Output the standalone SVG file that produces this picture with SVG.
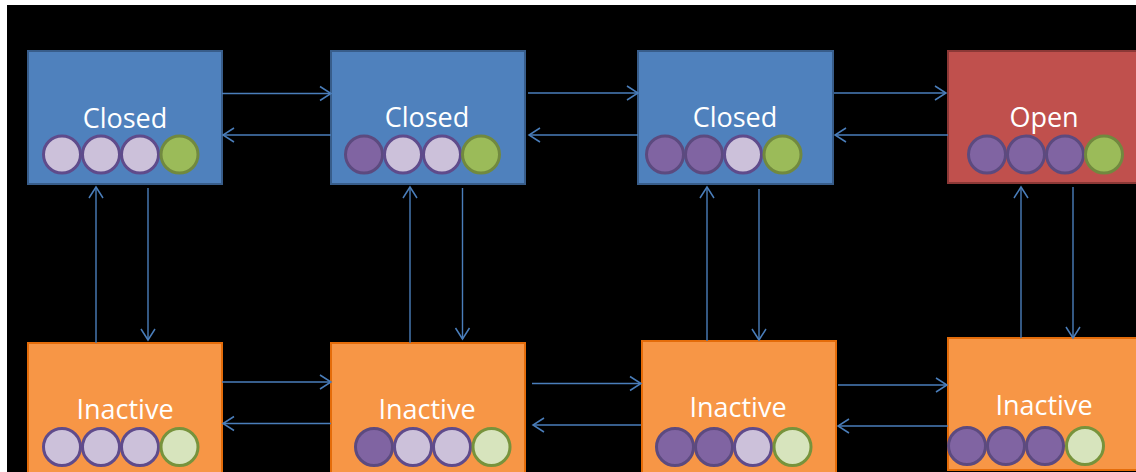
<svg xmlns="http://www.w3.org/2000/svg" width="1136" height="472" viewBox="0 0 1136 472">
  <defs>
    <style>
      .closed { fill: #4f81bd; stroke: #385d8a; stroke-width: 2; }
      .open { fill: #c0504d; stroke: #8c3836; stroke-width: 2; }
      .inactive { fill: #f79646; stroke: #e46c0a; stroke-width: 2; }
      .lbl { font-family: "Open Sans", "DejaVu Sans", sans-serif; font-size: 27px; fill: #ffffff; text-anchor: middle; }
      .p0 { fill: #ccc1da; stroke: #5f4b8b; stroke-width: 3; }
      .p1 { fill: #8064a2; stroke: #5c4a7f; stroke-width: 3; }
      .g1 { fill: #9bbb59; stroke: #71893f; stroke-width: 3; }
      .g0 { fill: #d7e4bd; stroke: #77933c; stroke-width: 3; }
      .edge { fill: none; stroke: #4a7ebb; stroke-width: 1.4; marker-end: url(#head); }
    </style>
    <marker id="head" markerUnits="userSpaceOnUse" markerWidth="15" markerHeight="18" viewBox="-13 -9 15 18" refX="0" refY="0" orient="auto">
      <path d="M-11,-7 L0,0 L-11,7" fill="none" stroke="#4a7ebb" stroke-width="1.5"/>
    </marker>
  </defs>

  <rect x="0" y="0" width="1136" height="472" fill="#ffffff"/>
  <rect x="7" y="5" width="1129" height="467" fill="#000000"/>

  <!-- top row -->
  <g id="closed-1">
    <rect class="closed" x="28" y="51" width="194" height="133"/>
    <text class="lbl" x="125" y="128">Closed</text>
    <circle class="p0" cx="62" cy="154.5" r="18.5"/>
    <circle class="p0" cx="101" cy="154.5" r="18.5"/>
    <circle class="p0" cx="140" cy="154.5" r="18.5"/>
    <circle class="g1" cx="179.5" cy="154.5" r="18.5"/>
  </g>
  <g id="closed-2">
    <rect class="closed" x="331" y="51" width="194" height="133"/>
    <text class="lbl" x="427" y="127">Closed</text>
    <circle class="p1" cx="364" cy="154.5" r="18.5"/>
    <circle class="p0" cx="403" cy="154.5" r="18.5"/>
    <circle class="p0" cx="442" cy="154.5" r="18.5"/>
    <circle class="g1" cx="481" cy="154.5" r="18.5"/>
  </g>
  <g id="closed-3">
    <rect class="closed" x="638" y="51" width="195" height="133"/>
    <text class="lbl" x="735" y="127">Closed</text>
    <circle class="p1" cx="665" cy="154.5" r="18.5"/>
    <circle class="p1" cx="704" cy="154.5" r="18.5"/>
    <circle class="p0" cx="743" cy="154.5" r="18.5"/>
    <circle class="g1" cx="782.5" cy="154.5" r="18.5"/>
  </g>
  <g id="open">
    <rect class="open" x="948" y="51" width="194" height="132"/>
    <text class="lbl" x="1044" y="127">Open</text>
    <circle class="p1" cx="987" cy="154.5" r="18.5"/>
    <circle class="p1" cx="1026" cy="154.5" r="18.5"/>
    <circle class="p1" cx="1065" cy="154.5" r="18.5"/>
    <circle class="g1" cx="1104" cy="154.5" r="18.5"/>
  </g>

  <!-- bottom row -->
  <g id="inactive-1">
    <rect class="inactive" x="28" y="343" width="194" height="134"/>
    <text class="lbl" x="125" y="419">Inactive</text>
    <circle class="p0" cx="62" cy="447" r="18.5"/>
    <circle class="p0" cx="101" cy="447" r="18.5"/>
    <circle class="p0" cx="140" cy="447" r="18.5"/>
    <circle class="g0" cx="179.5" cy="447" r="18.5"/>
  </g>
  <g id="inactive-2">
    <rect class="inactive" x="331" y="343" width="194" height="134"/>
    <text class="lbl" x="427" y="419">Inactive</text>
    <circle class="p1" cx="374" cy="447" r="18.5"/>
    <circle class="p0" cx="413" cy="447" r="18.5"/>
    <circle class="p0" cx="452" cy="447" r="18.5"/>
    <circle class="g0" cx="491.5" cy="447" r="18.5"/>
  </g>
  <g id="inactive-3">
    <rect class="inactive" x="642" y="341" width="194" height="134"/>
    <text class="lbl" x="738" y="417">Inactive</text>
    <circle class="p1" cx="675" cy="447" r="18.5"/>
    <circle class="p1" cx="714" cy="447" r="18.5"/>
    <circle class="p0" cx="753" cy="447" r="18.5"/>
    <circle class="g0" cx="792.5" cy="447" r="18.5"/>
  </g>
  <g id="inactive-4">
    <rect class="inactive" x="948" y="338" width="194" height="132"/>
    <text class="lbl" x="1044" y="415">Inactive</text>
    <circle class="p1" cx="967" cy="446" r="18.5"/>
    <circle class="p1" cx="1006" cy="446" r="18.5"/>
    <circle class="p1" cx="1045" cy="446" r="18.5"/>
    <circle class="g0" cx="1085" cy="446" r="18.5"/>
  </g>

  <g id="connectors">
    <!-- top row horizontal -->
    <path class="edge" d="M222,93.5 H331"/>
    <path class="edge" d="M331,135 H223"/>
    <path class="edge" d="M528,93 H638"/>
    <path class="edge" d="M638,135 H529"/>
    <path class="edge" d="M834,93 H946"/>
    <path class="edge" d="M948,135 H835"/>
    <!-- bottom row horizontal -->
    <path class="edge" d="M222,382 H331"/>
    <path class="edge" d="M331,423.5 H223"/>
    <path class="edge" d="M532,383.5 H641"/>
    <path class="edge" d="M641,425 H533"/>
    <path class="edge" d="M838,385 H947"/>
    <path class="edge" d="M948,426 H838"/>
    <!-- vertical -->
    <path class="edge" d="M96,343 V187"/>
    <path class="edge" d="M148,188 V340"/>
    <path class="edge" d="M410,343 V187"/>
    <path class="edge" d="M462.5,188 V339"/>
    <path class="edge" d="M707,341 V187"/>
    <path class="edge" d="M759,189 V340"/>
    <path class="edge" d="M1021,338 V187"/>
    <path class="edge" d="M1073,187 V338"/>
  </g>
</svg>
